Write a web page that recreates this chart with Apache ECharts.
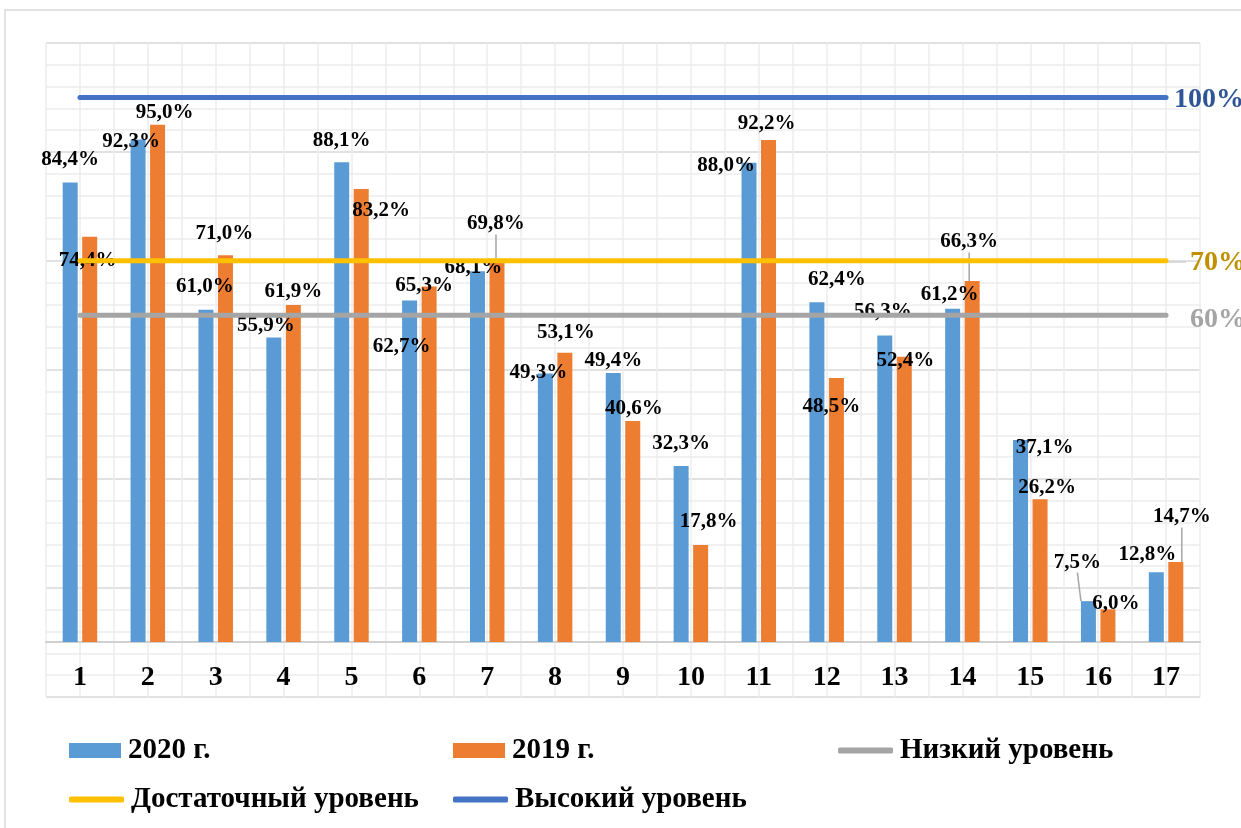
<!DOCTYPE html>
<html>
<head>
<meta charset="utf-8">
<script src="https://cdn.jsdelivr.net/npm/echarts@6/dist/echarts.min.js"></script>
<style>
html, body { margin: 0; padding: 0; background: #fff; }
#chart { width: 1241px; height: 828px; }
</style>
</head>
<body>
<div id="chart"></div>
<script>
var categories = ['1', '2', '3', '4', '5', '6', '7', '8', '9', '10', '11', '12', '13', '14', '15', '16', '17'];
var values2020 = [84.4, 92.3, 61.0, 55.9, 88.1, 62.7, 68.1, 49.3, 49.4, 32.3, 88.0, 62.4, 56.3, 61.2, 37.1, 7.5, 12.8];
var values2019 = [74.4, 95.0, 71.0, 61.9, 83.2, 65.3, 69.8, 53.1, 40.6, 17.8, 92.2, 48.5, 52.4, 66.3, 26.2, 6.0, 14.7];
var lowLevel = [60, 60, 60, 60, 60, 60, 60, 60, 60, 60, 60, 60, 60, 60, 60, 60, 60];
var enoughLevel = [70, 70, 70, 70, 70, 70, 70, 70, 70, 70, 70, 70, 70, 70, 70, 70, 70];
var highLevel = [100, 100, 100, 100, 100, 100, 100, 100, 100, 100, 100, 100, 100, 100, 100, 100, 100];

// where each data label sits, relative to the top of its bar (as moved by hand in the original)
var shift2020 = [[0,-23],[-7,2],[-1,-23],[-8,-12],[0,-22],[-8,46],[-4,-4],[-7,-1],[0,-12],[0,-23],
                 [-23,3],[20,-23],[-2,-24],[-3,-14],[24,8],[-11,-39],[-9,-18]];
var shift2019 = [[-2,24],[7,-12],[-1,-22],[0,-13],[20,22],[-5,-1],[-1,-38],[1,-20],[1,-12],[8,-23],
                 [-2,-16],[-5,29],[1,4],[-3,-39],[7,-12],[8,-6],[6,-45]];
var leaders2020 = [15];
var leaders2019 = [6, 13, 16];

var serif = "'Liberation Serif', 'Times New Roman', serif";

function barData(values, leaders) {
    return values.map(function (v, i) {
        var item = { value: v };
        if (leaders.indexOf(i) >= 0) {
            item.labelLine = { show: true };
        }
        return item;
    });
}

var barLabel = {
    show: true,
    position: ['50%', 0],
    align: 'center',
    verticalAlign: 'middle',
    color: '#000',
    fontFamily: serif,
    fontWeight: 'bold',
    fontSize: 21,
    formatter: function (p) {
        return p.value.toFixed(1).replace('.', ',') + '%';
    }
};

function legendBox(name, left, top, isLine) {
    return {
        data: [{ name: name, icon: isLine ? 'roundRect' : 'rect' }],
        left: left,
        top: top,
        itemWidth: isLine ? 55 : 52,
        itemHeight: isLine ? 6 : 15,
        itemGap: 0,
        textStyle: { fontFamily: serif, fontWeight: 'bold', fontSize: 29, color: '#000', padding: [0, 0, 0, 2] }
    };
}

var myChart = echarts.init(document.getElementById('chart'));
myChart.setOption({
    animation: false,
    graphic: [{
        type: 'rect',
        shape: { x: 5, y: 10, width: 1300, height: 900 },
        style: { fill: null, stroke: '#d9d9d9', lineWidth: 1.5 },
        z: -10
    }, {
        type: 'line',
        shape: { x1: 1168, y1: 262, x2: 1186, y2: 262 },
        style: { stroke: '#d0d0d0', lineWidth: 1.5 },
        z: 5
    }],
    legend: [
        legendBox('2020 г.', 64, 731, false),
        legendBox('2019 г.', 448, 731, false),
        legendBox('Низкий уровень', 833, 731, true),
        legendBox('Достаточный уровень', 64, 780, true),
        legendBox('Высокий уровень', 448, 780, true)
    ],
    grid: [
        { left: 46, right: 41, top: 43, bottom: 186 },
        { left: 46, right: 41, top: 43, bottom: 131 }
    ],
    xAxis: [{
        type: 'category',
        gridIndex: 0,
        data: categories,
        axisLine: { lineStyle: { color: '#d0d0d0', width: 2 } },
        axisTick: { show: false },
        axisLabel: {
            margin: 22,
            color: '#000',
            fontFamily: serif,
            fontWeight: 'bold',
            fontSize: 28
        }
    }, {
        type: 'value',
        gridIndex: 1,
        min: 0,
        max: 34,
        interval: 1,
        axisLine: { show: false },
        axisTick: { show: false },
        axisLabel: { show: false },
        splitLine: { lineStyle: { color: '#ececec', width: 1.5 } }
    }],
    yAxis: [{
        type: 'value',
        gridIndex: 0,
        min: 0,
        max: 110,
        axisLine: { show: false },
        axisTick: { show: false },
        axisLabel: { show: false },
        splitLine: { show: false }
    }, {
        type: 'value',
        gridIndex: 1,
        min: 0,
        max: 30,
        interval: 1,
        axisLine: { show: false },
        axisTick: { show: false },
        axisLabel: { show: false },
        splitLine: { lineStyle: { color: ['#d9d9d9', '#ececec', '#ececec', '#ececec', '#ececec'], width: 1.5 } }
    }],
    series: [{
        name: '2020 г.',
        type: 'bar',
        data: barData(values2020, leaders2020),
        barWidth: 15,
        barGap: '30%',
        itemStyle: { color: '#5b9bd5' },
        label: barLabel,
        labelLine: { lineStyle: { color: '#a6a6a6', width: 1.5 } },
        labelLayout: function (p) {
            return { dx: shift2020[p.dataIndex][0], dy: shift2020[p.dataIndex][1] };
        },
        z: 3
    }, {
        name: '2019 г.',
        type: 'bar',
        data: barData(values2019, leaders2019),
        barWidth: 15,
        itemStyle: { color: '#ed7d31' },
        label: barLabel,
        labelLine: { lineStyle: { color: '#a6a6a6', width: 1.5 } },
        labelLayout: function (p) {
            return { dx: shift2019[p.dataIndex][0], dy: shift2019[p.dataIndex][1] };
        },
        z: 3
    }, {
        name: 'Низкий уровень',
        type: 'line',
        data: lowLevel,
        symbol: 'none',
        itemStyle: { color: '#a5a5a5' },
        lineStyle: { color: '#a5a5a5', width: 5, cap: 'round' },
        endLabel: {
            show: true,
            formatter: '{c}%',
            offset: [16, 4],
            color: '#a5a5a5',
            fontFamily: serif,
            fontWeight: 'bold',
            fontSize: 28
        },
        z: 4
    }, {
        name: 'Достаточный уровень',
        type: 'line',
        data: enoughLevel,
        symbol: 'none',
        itemStyle: { color: '#ffc000' },
        lineStyle: { color: '#ffc000', width: 5, cap: 'round' },
        endLabel: {
            show: true,
            formatter: '{c}%',
            offset: [16, 2],
            color: '#bf9000',
            fontFamily: serif,
            fontWeight: 'bold',
            fontSize: 28
        },
        z: 4
    }, {
        name: 'Высокий уровень',
        type: 'line',
        data: highLevel,
        symbol: 'none',
        itemStyle: { color: '#4472c4' },
        lineStyle: { color: '#4472c4', width: 5, cap: 'round' },
        endLabel: {
            show: true,
            formatter: '{c}%',
            offset: [0, 2],
            color: '#2f5597',
            fontFamily: serif,
            fontWeight: 'bold',
            fontSize: 28
        },
        z: 4
    }]
});
</script>
</body>
</html>
